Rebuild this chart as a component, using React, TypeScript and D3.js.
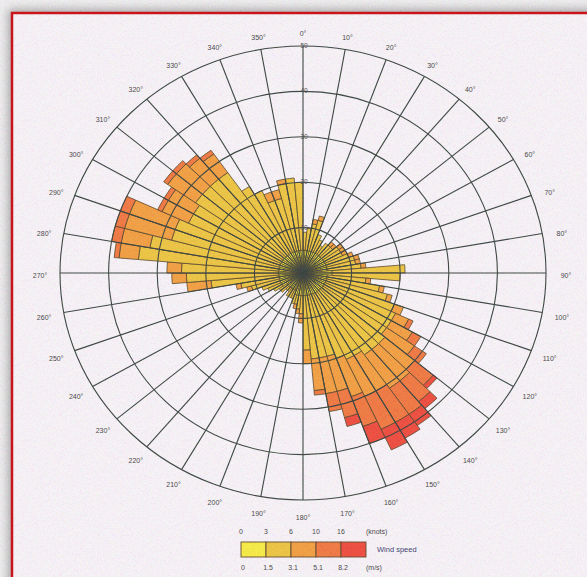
import React from "react";
import * as d3 from "d3";

const W = 587;
const H = 577;
const CX = 303;
const CY = 273;
const RX = 243;
const RY = 227;

// sector start angles (degrees), each sector 5° wide
const directions = [
  0, 5, 10, 15, 20, 25, 30, 35, 40, 45, 50, 55, 60, 65, 70, 75, 80, 85,
  90, 95, 100, 105, 110, 115, 120, 125, 130, 135, 140, 145, 150, 155, 160, 165, 170, 175,
  180, 185, 190, 195, 200, 205, 210, 215, 220, 225, 230, 235, 240, 245, 250, 255, 260, 265,
  270, 275, 280, 285, 290, 295, 300, 305, 310, 315, 320, 325, 330, 335, 340, 345, 350, 355,
];

// frequency per speed class (stacked)
const speed1 = [
  5, 5, 5, 5, 5, 5, 5, 5, 5, 5, 5, 5, 5, 5, 5, 5, 5, 6,
  6, 5, 5, 5, 5, 5, 5, 5, 5, 5, 5, 5, 5, 5, 5, 5, 5, 5,
  5, 5, 5, 5, 4, 4, 4, 4, 4, 4, 4, 5, 5, 5, 5, 5, 5, 5,
  5, 5, 5, 5, 5, 5, 5, 5, 5, 5, 5, 5, 5, 5, 5, 5, 5, 5,
];
const speed2 = [
  4, 5, 6, 7, 4, 3, 2, 3, 3, 3, 4, 4, 4, 5, 6, 6, 7, 15,
  14, 8, 11, 13, 15, 16, 16, 16, 17, 17, 17, 16, 16, 15, 14, 14, 14, 12,
  4, 3, 2, 2, 2, 2, 2, 1, 1, 2, 2, 2, 3, 4, 6, 8, 14, 19,
  20, 29, 27, 23, 23, 21, 21, 22, 22, 22, 22, 17, 15, 12, 12, 15, 16, 15,
];
const speed3 = [
  0, 0, 1, 1, 0, 0, 0, 0, 1, 1, 1, 1, 1, 1, 1, 1, 1, 0,
  0, 1, 1, 1, 2, 3, 5, 7, 8, 9, 9, 9, 9, 9, 8, 8, 7, 3,
  2, 1, 1, 0, 0, 0, 0, 0, 0, 0, 0, 0, 0, 0, 1, 1, 5, 3,
  3, 4, 6, 10, 10, 6, 6, 7, 7, 6, 5, 0, 0, 2, 2, 1, 0, 0,
];
const speed4 = [
  0, 0, 0, 0, 0, 0, 0, 0, 0, 0, 0, 0, 0, 0, 0, 0, 0, 0,
  0, 0, 0, 0, 0, 1, 2, 3, 5, 6, 7, 8, 8, 7, 6, 4, 1, 0,
  0, 0, 0, 0, 0, 0, 0, 0, 0, 0, 0, 0, 0, 0, 0, 0, 0, 0,
  0, 1, 2, 2, 2, 1, 1, 1, 1, 1, 1, 0, 0, 0, 0, 0, 0, 0,
];
const speed5 = [
  0, 0, 0, 0, 0, 0, 0, 0, 0, 0, 0, 0, 0, 0, 0, 0, 0, 0,
  0, 0, 0, 0, 0, 0, 0, 0, 1, 2, 3, 4, 5, 4, 2, 0, 0, 0,
  0, 0, 0, 0, 0, 0, 0, 0, 0, 0, 0, 0, 0, 0, 0, 0, 0, 0,
  0, 0, 0, 0, 0, 0, 0, 0, 0, 0, 0, 0, 0, 0, 0, 0, 0, 0,
];

const speedColors = ["#f4e82a", "#e8bc26", "#ef9126", "#ed6526", "#ea3322"];
const ringTicks = [10, 20, 30, 40, 50];
const angleTicks = [0, 10, 20, 30, 40, 50, 60, 70, 80, 90, 100, 110, 120, 130, 140, 150, 160, 170,
  180, 190, 200, 210, 220, 230, 240, 250, 260, 270, 280, 290, 300, 310, 320, 330, 340, 350];
const knotsLabels = ["0", "3", "6", "10", "16"];
const msLabels = ["0", "1.5", "3.1", "5.1", "8.2"];

const FONT = "'Liberation Sans', Arial, sans-serif";

export default function App() {
  const r = d3.scaleLinear().domain([0, 50]).range([0, RY]);
  const sx = RX / RY;
  const rad = (deg: number) => (deg * Math.PI) / 180;
  const series = [speed1, speed2, speed3, speed4, speed5];

  const segs: { dir: number; y0: number; y1: number; k: number }[] = [];
  directions.forEach((dir, i) => {
    let acc = 0;
    series.forEach((s, k) => {
      const v = s[i];
      if (v > 0) {
        segs.push({ dir, y0: acc, y1: acc + v, k });
        acc += v;
      }
    });
  });

  const arc = d3
    .arc<any>()
    .innerRadius((d) => r(d.y0))
    .outerRadius((d) => r(d.y1))
    .startAngle((d) => rad(d.dir))
    .endAngle((d) => rad(d.dir + 5));

  const legendX = d3.scaleLinear().domain([0, 5]).range([241, 366]);

  return (
    <svg
      width={W}
      height={H}
      style={{ position: "absolute", left: 0, top: 0, display: "block" }}
      fontFamily={FONT}
    >
      <defs>
        <filter id="noise" x="0" y="0" width="100%" height="100%">
          <feTurbulence type="fractalNoise" baseFrequency="1.6" numOctaves="1" seed="4" result="t" />
          <feColorMatrix
            in="t"
            type="matrix"
            values="2.4 0 0 0 -0.2  0 2.4 0 0 -0.3  0 0 2.4 0 -0.2  0 0 0 0 0.16"
          />
        </filter>
        <filter id="shadow" x="-10%" y="-10%" width="120%" height="120%">
          <feGaussianBlur stdDeviation="5" />
        </filter>
      </defs>
      <rect x={0} y={0} width={W} height={H} fill="#ececec" />
      <rect x={8} y={9} width={620} height={620} fill="#9a9a9a" filter="url(#shadow)" />
      <rect x={12} y={13} width={620} height={620} fill="#f4f0f4" />

      <g transform={`translate(${CX},${CY}) scale(${sx},1)`}>
        {segs.map((d, i) => (
          <path
            key={i}
            d={arc(d) as string}
            fill={speedColors[d.k]}
            stroke="#3e2c0a"
            strokeWidth={0.8}
            vectorEffect="non-scaling-stroke"
          />
        ))}
        {ringTicks.map((t) => (
          <circle
            key={t}
            r={r(t)}
            fill="none"
            stroke="#1e2a24"
            strokeWidth={1.1}
            vectorEffect="non-scaling-stroke"
          />
        ))}
        {angleTicks.map((a) => (
          <line
            key={a}
            x1={0}
            y1={0}
            x2={r(50) * Math.sin(rad(a))}
            y2={-r(50) * Math.cos(rad(a))}
            stroke="#1e2a24"
            strokeWidth={1.1}
            vectorEffect="non-scaling-stroke"
          />
        ))}
      </g>

      {ringTicks.map((t) => (
        <text
          key={t}
          x={CX + 1}
          y={CY - r(t) + 2}
          fontSize={6.5}
          fill="#333"
          textAnchor="middle"
        >
          {t}
        </text>
      ))}

      {angleTicks.map((a) => {
        const s = Math.sin(rad(a));
        const c = Math.cos(rad(a));
        const x = CX + (RX + 12 + 8 * Math.abs(s)) * s;
        const y = CY + 3 - (RY + 15) * c;
        return (
          <text
            key={a}
            x={x}
            y={y}
            fontSize={7}
            fill="#2a2a2a"
            textAnchor="middle"
            dominantBaseline="middle"
          >
            {a + "°"}
          </text>
        );
      })}

      {knotsLabels.map((l, i) => (
        <text key={l} x={legendX(i)} y={532} fontSize={7} fill="#2a2a2a" textAnchor="middle" dominantBaseline="middle">
          {l}
        </text>
      ))}
      <text x={366} y={532} fontSize={7} fill="#2a2a2a" dominantBaseline="middle">(knots)</text>
      {speedColors.map((c, i) => (
        <rect
          key={c}
          x={legendX(i)}
          y={542}
          width={legendX(i + 1) - legendX(i)}
          height={15}
          fill={c}
          stroke="#4a300e"
          strokeWidth={0.9}
        />
      ))}
      <text x={377} y={550} fontSize={7.5} fill="#22225a" dominantBaseline="middle">Wind speed</text>
      {msLabels.map((l, i) => (
        <text key={l} x={legendX(i) + 2} y={568} fontSize={7} fill="#2a2a2a" textAnchor="middle" dominantBaseline="middle">
          {l}
        </text>
      ))}
      <text x={366} y={568} fontSize={7} fill="#2a2a2a" dominantBaseline="middle">(m/s)</text>

      <rect x={0} y={0} width={W} height={H} filter="url(#noise)" pointerEvents="none" />
      <rect x={12} y={13} width={620} height={620} fill="none" stroke="#c8141a" strokeWidth={2.5} />
    </svg>
  );
}
